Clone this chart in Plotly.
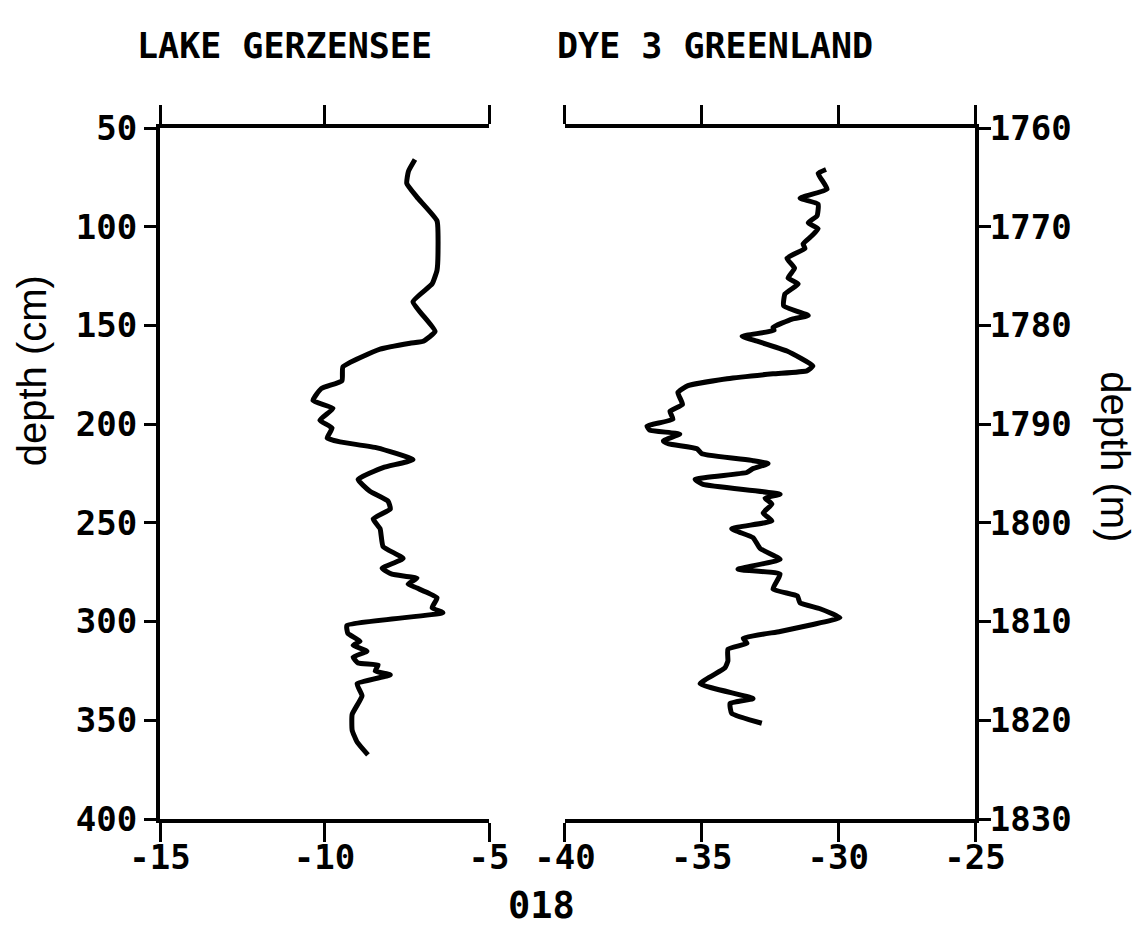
import plotly.graph_objects as go

# ---- Data ----
gerzensee_depth_cm = [66, 72, 78, 85, 97, 112, 122, 129, 138, 153, 158, 159, 162, 171, 178,
                      182, 188, 192, 198, 202, 207, 209, 212, 218, 222, 228, 234, 239, 243,
                      248, 253, 262, 268, 273, 276, 278, 281, 283, 288, 293, 295.5, 302,
                      306, 310, 312, 315, 318, 321, 322, 325, 327, 331.5, 337.6, 347, 355,
                      361, 367.5]
gerzensee_o18 = [-7.25, -7.45, -7.5, -7.19, -6.58, -6.55, -6.58, -6.73, -7.31, -6.64, -7.0,
                 -7.4, -8.31, -9.44, -9.47, -10.1, -10.35, -9.74, -10.14, -9.77, -9.92,
                 -9.53, -8.4, -7.31, -8.22, -8.98, -8.62, -8.07, -8.0, -8.52, -8.31, -8.22,
                 -7.61, -8.25, -7.95, -7.19, -7.46, -7.19, -6.58, -6.73, -6.4, -9.32, -9.29,
                 -8.92, -9.13, -8.71, -9.13, -8.98, -8.37, -8.46, -8.0, -9.01, -8.86, -9.16,
                 -9.16, -9.01, -8.68]

dye3_depth_m = [1764.2, 1764.6, 1766.2, 1767.1, 1767.7, 1768.9, 1769.6, 1770.2, 1770.9,
                1771.75, 1772.2, 1773.2, 1774.2, 1775.2, 1775.8, 1776.8, 1778.0, 1779.0,
                1779.35, 1780.2, 1780.5, 1781.1, 1781.6, 1782.6, 1784.1, 1784.6, 1784.9,
                1785.4, 1786.1, 1786.8, 1788.0, 1788.7, 1789.5, 1790.2, 1790.6, 1791.0,
                1791.7, 1792.0, 1792.5, 1793.0, 1793.7, 1794.0, 1794.5, 1794.9, 1795.6,
                1796.1, 1797.1, 1797.5, 1798.1, 1799.0, 1799.8, 1800.6, 1801.5, 1802.6,
                1803.7, 1804.7, 1805.2, 1806.7, 1807.4, 1808.1, 1808.7, 1809.6, 1810.3,
                1811.0, 1811.7, 1812.2, 1812.8, 1814.0, 1814.7, 1816.3, 1817.8, 1818.3,
                1819.3, 1820.3]
dye3_o18 = [-30.45, -30.74, -30.41, -31.4, -30.74, -30.78, -31.1, -30.74, -30.96, -31.29,
            -31.22, -31.88, -31.6, -31.84, -31.47, -31.95, -32.0, -31.1, -31.69, -32.39,
            -32.35, -33.52, -32.97, -31.88, -30.93, -31.15, -32.39, -34.07, -35.5, -35.87,
            -35.7, -36.16, -36.05, -37.0, -36.9, -35.8, -36.4, -36.2, -35.17, -34.99,
            -33.12, -32.57, -33.12, -33.35, -35.24, -34.95, -32.13, -32.68, -32.43, -32.75,
            -32.43, -33.9, -33.12, -32.86, -32.13, -33.67, -32.13, -32.39, -31.5, -31.4,
            -30.67, -29.94, -30.93, -32.13, -33.48, -33.34, -34.04, -34.04, -34.15, -35.06,
            -33.12, -33.96, -33.9, -32.8]

left_xticks = [-15, -10, -5]
right_xticks = [-40, -35, -30, -25]
left_yticks = [50, 100, 150, 200, 250, 300, 350, 400]
right_yticks = [1760, 1770, 1780, 1790, 1800, 1810, 1820, 1830]

panel_titles = ["LAKE GERZENSEE", "DYE 3 GREENLAND"]
x_title = "018"
left_y_title = "depth (cm)"
right_y_title = "depth (m)"

# ---- Figure ----
tick_font = dict(family="DejaVu Sans Mono", size=34, color="black", weight="bold")
title_font = dict(family="DejaVu Sans Mono", size=35, color="black", weight="bold")
xtitle_font = dict(family="DejaVu Sans Mono", size=37, color="black", weight="bold")
label_font = dict(family="Liberation Sans, Arial", size=40, color="black")

fig = go.Figure()
fig.add_trace(go.Scatter(x=gerzensee_o18, y=gerzensee_depth_cm, mode="lines",
                         line=dict(color="black", width=5, shape="spline", smoothing=0.4),
                         xaxis="x", yaxis="y", showlegend=False, hoverinfo="skip"))
fig.add_trace(go.Scatter(x=dye3_o18, y=dye3_depth_m, mode="lines",
                         line=dict(color="black", width=5, shape="spline", smoothing=0.4),
                         xaxis="x2", yaxis="y2", showlegend=False, hoverinfo="skip"))

axis_common = dict(showline=True, linecolor="black", linewidth=4, ticks="outside",
                   tickcolor="black", tickwidth=3, showgrid=False, zeroline=False,
                   tickfont=tick_font)

fig.update_layout(
    width=1132, height=928,
    paper_bgcolor="white", plot_bgcolor="white",
    margin=dict(l=152, r=165, t=120, b=117),
    xaxis=dict(domain=[0, 0.4037], range=[-15, -5], tickvals=left_xticks,
               ticktext=[str(v) for v in left_xticks], mirror="ticks", ticklen=19,
               ticklabelstandoff=-14, anchor="y", **axis_common),
    yaxis=dict(domain=[0, 1], range=[400, 50], tickvals=left_yticks,
               ticktext=[str(v) for v in left_yticks], ticklen=12, anchor="x",
               **axis_common),
    xaxis2=dict(domain=[0.4969, 1], range=[-40, -25], tickvals=right_xticks,
                ticktext=[str(v) for v in right_xticks], mirror="ticks", ticklen=19,
                ticklabelstandoff=-14, anchor="y2", **axis_common),
    yaxis2=dict(domain=[0, 1], range=[1830, 1760], tickvals=right_yticks,
                ticktext=[str(v) for v in right_yticks], ticklen=12, anchor="x2",
                side="right", ticklabelstandoff=-8, **axis_common),
    annotations=[
        dict(text=panel_titles[0], x=0.153, y=1.1187, xref="paper", yref="paper",
             showarrow=False, font=title_font, xanchor="center", yanchor="middle"),
        dict(text=panel_titles[1], x=0.681, y=1.1187, xref="paper", yref="paper",
             showarrow=False, font=title_font, xanchor="center", yanchor="middle"),
        dict(text=x_title, x=0.4675, y=-0.1259, xref="paper", yref="paper",
             showarrow=False, font=xtitle_font, xanchor="center", yanchor="middle"),
        dict(text=left_y_title, x=-0.157, y=0.648, xref="paper", yref="paper",
             showarrow=False, font=label_font, textangle=-90,
             xanchor="center", yanchor="middle"),
        dict(text=right_y_title, x=1.1718, y=0.525, xref="paper", yref="paper",
             showarrow=False, font=label_font, textangle=90,
             xanchor="center", yanchor="middle"),
    ],
)

fig.write_html("out.html")
